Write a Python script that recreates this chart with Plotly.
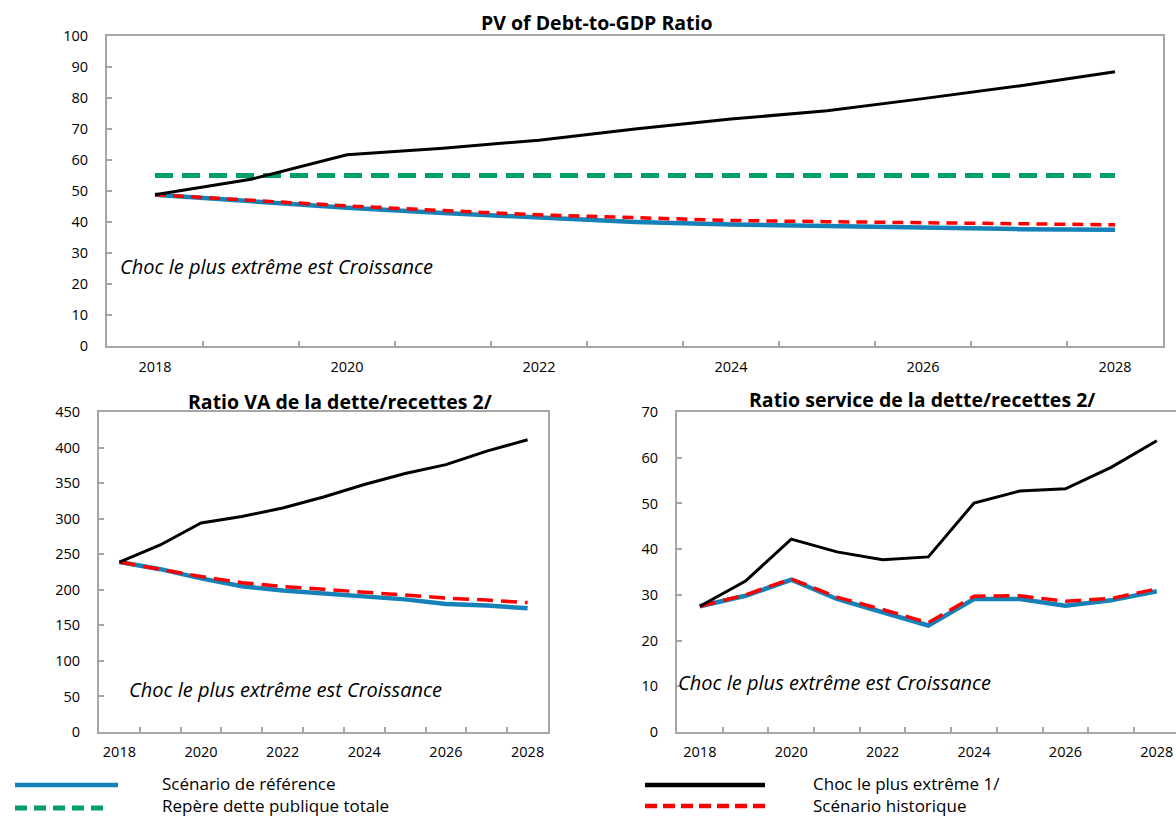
import plotly.graph_objects as go

W, H = 1176, 817

years = [2018, 2019, 2020, 2021, 2022, 2023, 2024, 2025, 2026, 2027, 2028]
year_labels = ["2018", "2020", "2022", "2024", "2026", "2028"]

# PV of Debt-to-GDP Ratio
gdp_base = [48.8, 46.6, 44.6, 42.9, 41.3, 40.0, 39.2, 38.6, 38.0, 37.7, 37.5]
gdp_shock = [48.8, 53.8, 61.7, 63.8, 66.4, 70.0, 73.2, 75.9, 79.8, 83.9, 88.5]
gdp_hist = [48.8, 46.9, 45.2, 43.7, 42.3, 41.4, 40.5, 40.1, 39.8, 39.3, 39.1]
gdp_bench = [55, 55, 55, 55, 55, 55, 55, 55, 55, 55, 55]

# Ratio VA de la dette/recettes
rev_base = [239, 229, 216, 205, 199, 194.5, 190, 186.5, 180, 178, 174]
rev_shock = [239, 263, 294, 303, 315, 330.5, 348, 363.5, 376, 395, 411]
rev_hist = [239, 229, 218.6, 210, 204.5, 200.7, 196.4, 193, 188.4, 185.5, 182]

# Ratio service de la dette/recettes
svc_base = [27.5, 29.8, 33.3, 29.1, 26.2, 23.3, 29.1, 29.1, 27.6, 28.8, 30.8]
svc_shock = [27.5, 33.0, 42.2, 39.4, 37.7, 38.3, 50.1, 52.7, 53.2, 57.9, 63.7]
svc_hist = [27.5, 30.0, 33.5, 29.5, 26.8, 23.9, 29.7, 29.8, 28.6, 29.2, 31.3]

titles = ["PV of Debt-to-GDP Ratio",
          "Ratio VA de la dette/recettes 2/",
          "Ratio service de la dette/recettes 2/"]
note = "Choc le plus extrême est Croissance"
legend_names = ["Scénario de référence", "Repère dette publique totale",
                "Choc le plus extrême 1/", "Scénario historique"]

BLUE = "#1482b8"
GREEN = "#00a064"
BLACK = "#000000"
RED = "#ff0000"
AXIS = "#a6a6a6"
FONT = "Open Sans"


def px_x(x):
    return x / W


def px_y(y):
    return 1 - y / H


fig = go.Figure()


def add_line(xref, yref, ys, color, width, dash="solid"):
    fig.add_trace(go.Scatter(
        x=years, y=ys, mode="lines", xaxis=xref, yaxis=yref,
        line=dict(color=color, width=width, dash=dash),
        showlegend=False, hoverinfo="skip"))


# top panel
add_line("x", "y", gdp_bench, GREEN, 5, "18px,9px")
add_line("x", "y", gdp_base, BLUE, 4.5)
add_line("x", "y", gdp_hist, RED, 3.5, "11px,7px")
add_line("x", "y", gdp_shock, BLACK, 3)

# bottom-left panel
add_line("x2", "y2", rev_base, BLUE, 4.5)
add_line("x2", "y2", rev_hist, RED, 3.5, "16px,8px")
add_line("x2", "y2", rev_shock, BLACK, 3)

# bottom-right panel
add_line("x3", "y3", svc_base, BLUE, 4.5)
add_line("x3", "y3", svc_hist, RED, 3.5, "16px,8px")
add_line("x3", "y3", svc_shock, BLACK, 3)

tickfont = dict(family=FONT, size=14.5, color="#000000")
minor_vals = [y + 0.5 for y in years[:-1]]


def xaxis(domain, rng, anchor, standoff):
    return dict(
        domain=domain, range=rng, anchor=anchor, automargin=False,
        tickmode="array", tickvals=[int(t) for t in year_labels], ticktext=year_labels,
        ticks="", ticklen=0, tickfont=tickfont, ticklabelstandoff=standoff,
        minor=dict(tickmode="array", tickvals=minor_vals, ticks="inside",
                   ticklen=5, tickwidth=1.5, tickcolor=AXIS),
        showline=True, linecolor=AXIS, linewidth=2, mirror=True,
        showgrid=False, zeroline=False, fixedrange=True)


def yaxis(domain, rng, dtick, anchor, mirror=True):
    return dict(
        domain=domain, range=rng, anchor=anchor, automargin=False,
        tickmode="linear", tick0=0, dtick=dtick,
        ticks="inside", ticklen=5, tickwidth=1.5, tickcolor=AXIS,
        tickfont=tickfont, ticklabelstandoff=14,
        showline=True, linecolor=AXIS, linewidth=2, mirror=mirror,
        showgrid=False, zeroline=False, fixedrange=True)


fig.update_layout(
    width=W, height=H, autosize=False,
    margin=dict(l=0, r=0, t=0, b=0, pad=0, autoexpand=False),
    paper_bgcolor="white", plot_bgcolor="white",
    showlegend=False,
    font=dict(family=FONT, color="#000000"),
    xaxis=xaxis([px_x(107), px_x(1163)], [2017.5, 2028.5], "y", 7),
    yaxis=yaxis([px_y(346), px_y(36)], [0, 100], 10, "x"),
    xaxis2=xaxis([px_x(99), px_x(548)], [2017.5, 2028.5], "y2", 6),
    yaxis2=yaxis([px_y(732), px_y(412)], [0, 450], 50, "x2"),
    xaxis3=xaxis([px_x(677), 1.0], [2017.5, 2028.42], "y3", 6),
    yaxis3=yaxis([px_y(732), px_y(412)], [0, 70], 10, "x3", mirror=False),
)

# panel titles
for text, cx, cy in [(titles[0], 597, 22), (titles[1], 340, 401), (titles[2], 922, 399)]:
    fig.add_annotation(x=px_x(cx), y=px_y(cy), xref="paper", yref="paper",
                       text=f"<b>{text}</b>", showarrow=False,
                       xanchor="center", yanchor="middle",
                       font=dict(family=FONT, size=19.5, color="#000000"))

# scenario notes
for nx, ny in [(118, 266), (127, 689), (676, 682)]:
    fig.add_annotation(x=px_x(nx), y=px_y(ny), xref="paper", yref="paper",
                       text=f"<i>{note}</i>", showarrow=False,
                       xanchor="left", yanchor="middle",
                       font=dict(family=FONT, size=20, color="#000000"))

# legend keys and labels
legend_items = [
    (legend_names[0], BLUE, 4.5, "solid", 15, 118, 785, 160, 783),
    (legend_names[1], GREEN, 5, "12px,7px", 15, 110, 808, 160, 805),
    (legend_names[2], BLACK, 4.5, "solid", 645, 765, 785, 811, 783),
    (legend_names[3], RED, 4.5, "12px,6px", 645, 768, 806, 811, 805),
]
for name, color, lw, dash, x0, x1, ly, tx, ty in legend_items:
    fig.add_shape(type="line", xref="paper", yref="paper",
                  x0=px_x(x0), x1=px_x(x1), y0=px_y(ly), y1=px_y(ly),
                  line=dict(color=color, width=lw, dash=dash))
    fig.add_annotation(x=px_x(tx), y=px_y(ty), xref="paper", yref="paper",
                       text=name, showarrow=False, xanchor="left", yanchor="middle",
                       font=dict(family=FONT, size=17, color="#000000"))

fig.write_html("out.html")
